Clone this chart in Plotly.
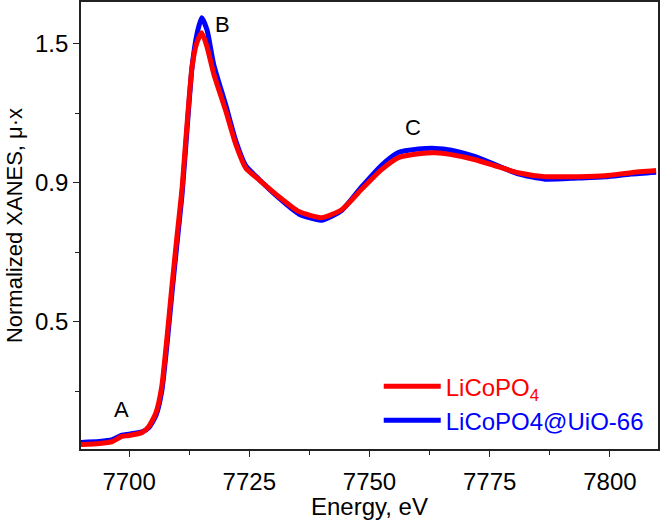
import plotly.graph_objects as go

# ---------------- data ----------------
energy = [7689.8, 7693.8, 7696.5, 7698.5, 7700.0, 7702.7, 7704.1, 7705.6, 7706.8,
          7707.9, 7708.9, 7710.0, 7711.0, 7711.8, 7713.1, 7714.1, 7715.1, 7716.2,
          7717.6, 7720.1, 7722.2, 7724.3, 7727.0, 7731.1, 7735.3, 7740.0, 7744.2,
          7748.3, 7752.5, 7756.0, 7760.2, 7763.7, 7767.0, 7772.0, 7776.1, 7780.9,
          7786.5, 7793.4, 7799.0, 7804.4, 7809.6]

licopo4 = [-0.231, -0.226, -0.218, -0.196, -0.192, -0.179, -0.153, -0.093, 0.020,
           0.235, 0.451, 0.676, 0.870, 1.086, 1.401, 1.504, 1.547, 1.487,
           1.370, 1.210, 1.065, 0.962, 0.913, 0.840, 0.775, 0.749, 0.783,
           0.870, 0.956, 1.008, 1.025, 1.029, 1.021, 0.999, 0.973, 0.943,
           0.926, 0.926, 0.930, 0.943, 0.952]

licopo4_uio66 = [-0.222, -0.218, -0.210, -0.190, -0.186, -0.176, -0.158, -0.105, 0.000,
                 0.205, 0.420, 0.645, 0.845, 1.060, 1.400, 1.540, 1.612, 1.560,
                 1.410, 1.235, 1.080, 0.972, 0.915, 0.835, 0.765, 0.738, 0.780,
                 0.880, 0.975, 1.030, 1.045, 1.048, 1.040, 1.012, 0.978, 0.938,
                 0.915, 0.920, 0.925, 0.937, 0.945]

series_names = ["LiCoPO<sub>4</sub>", "LiCoPO4@UiO-66"]

x_tick_vals = [7700, 7725, 7750, 7775, 7800]
x_tick_text = ["7700", "7725", "7750", "7775", "7800"]
y_tick_vals = [0.3, 0.9, 1.5]
y_tick_text = ["0.5", "0.9", "1.5"]
y_minor_vals = [0.0, 0.6, 1.2]

peak_labels = ["A", "B", "C"]
peak_x = [7698.5, 7719.5, 7759.1]
peak_y = [-0.08, 1.582, 1.137]

# ---------------- figure ----------------
FONT = "Liberation Sans, Arial, sans-serif"
RED = "rgb(255,0,0)"
BLUE = "rgb(0,0,255)"

fig = go.Figure()
fig.add_trace(go.Scatter(
    x=energy, y=licopo4_uio66, mode="lines",
    line=dict(color=BLUE, width=5, shape="spline", smoothing=0.55),
    name="<span style='color:rgb(0,0,255)'>" + series_names[1] + "</span>",
    legendrank=2,
))
fig.add_trace(go.Scatter(
    x=energy, y=licopo4, mode="lines",
    line=dict(color=RED, width=5, shape="spline", smoothing=0.55),
    name="<span style='color:rgb(255,0,0)'>" + series_names[0] + "</span>",
    legendrank=1,
))

for lab, xx, yy in zip(peak_labels, peak_x, peak_y):
    fig.add_annotation(x=xx, y=yy, xref="x", yref="y", text=lab, showarrow=False,
                       font=dict(family=FONT, size=22, color="black"))

axis_common = dict(
    showline=True, linecolor="#222", linewidth=1.6, mirror=True,
    ticks="outside", ticklen=6, tickwidth=1.4, tickcolor="#222",
    showgrid=False, zeroline=False, automargin=False,
    tickfont=dict(family=FONT, size=24, color="black"),
)

fig.update_xaxes(
    range=[7690, 7810], tickmode="array", tickvals=x_tick_vals, ticktext=x_tick_text,
    ticklabelstandoff=4,
    title=dict(text="Energy, eV", font=dict(family=FONT, size=24, color="black"), standoff=2),
    minor=dict(ticks="outside", ticklen=4, tickwidth=1.4, tickcolor="#222", dtick=12.5, tick0=7700),
    **axis_common,
)
fig.update_yaxes(
    range=[-0.25, 1.68], tickmode="array", tickvals=y_tick_vals, ticktext=y_tick_text,
    title=dict(text="Normalized XANES, \u03bc\u00b7x", font=dict(family=FONT, size=22, color="black"), standoff=6),
    minor=dict(ticks="outside", ticklen=4, tickwidth=1.4, tickcolor="#222", tickmode="array", tickvals=y_minor_vals),
    **axis_common,
)

fig.update_layout(
    width=661, height=520,
    margin=dict(l=81, r=3, t=2, b=71),
    paper_bgcolor="white", plot_bgcolor="white",
    showlegend=True,
    legend=dict(x=0.516, y=0.19, xanchor="left", yanchor="top",
                bgcolor="rgba(0,0,0,0)", borderwidth=0,
                font=dict(family=FONT, size=24), itemwidth=57,
                tracegroupgap=0),
)

fig.write_html("out.html", config={"displayModeBar": False},
               post_script="document.body.style.margin='0';document.body.style.overflow='hidden';")
